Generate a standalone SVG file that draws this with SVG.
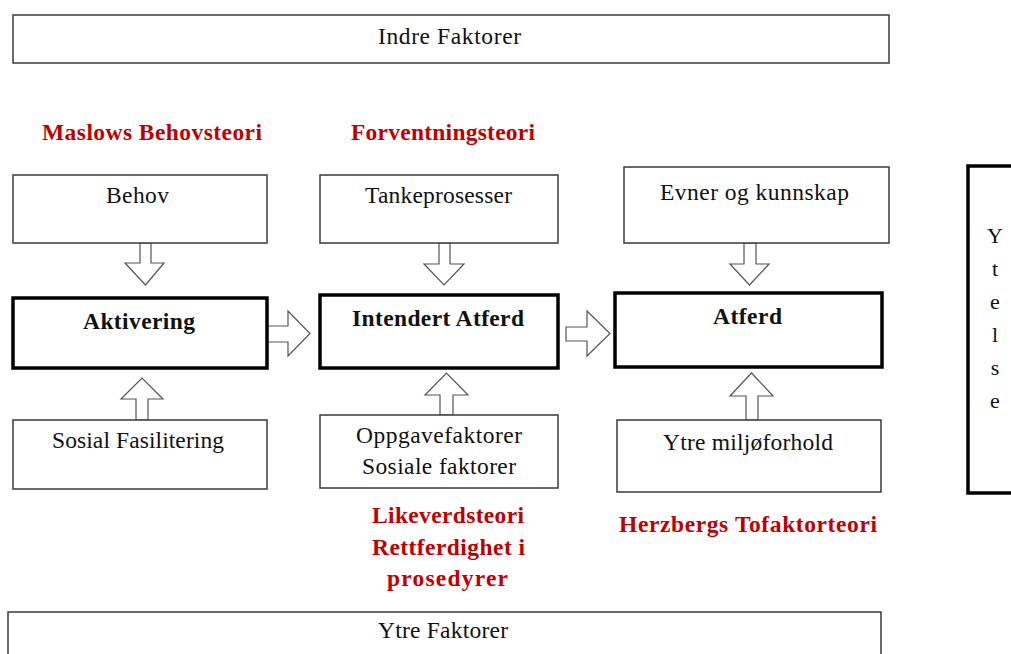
<svg xmlns="http://www.w3.org/2000/svg" width="1011" height="654" viewBox="0 0 1011 654">
  <style>
    .box { fill: #ffffff; stroke: #3a3a3a; stroke-width: 1.5; }
    .core { fill: #ffffff; stroke: #000000; stroke-width: 3.5; }
    .arrow { fill: #ffffff; stroke: #555555; stroke-width: 1.2; stroke-linejoin: miter; }
    .t { font-family: "Liberation Serif", "Times New Roman", serif; font-size: 23.5px; fill: #111111; text-anchor: middle; }
    .b { font-family: "Liberation Serif", "Times New Roman", serif; font-size: 23.5px; font-weight: bold; fill: #111111; text-anchor: middle; }
    .theory { font-family: "Liberation Serif", "Times New Roman", serif; font-size: 23.5px; font-weight: bold; fill: #c00000; text-anchor: middle; }
    .v { font-family: "Liberation Serif", "Times New Roman", serif; font-size: 22px; fill: #111111; text-anchor: middle; }
  </style>
  <rect width="1011" height="654" fill="#ffffff"/>

  <!-- block arrows between the boxes -->
  <g id="connectors">
    <polygon class="arrow" points="140,243 151,243 151,263 164,263 145.5,285 125,263 140,263"/>
    <polygon class="arrow" points="439,243 450,243 450,264 464,264 444,285 424,264 439,264"/>
    <polygon class="arrow" points="744,243 756,243 756,264 769,264 749.5,285 730,264 744,264"/>
    <polygon class="arrow" points="267,326 288,326 288,311 310,333.5 288,356 288,342 267,342"/>
    <polygon class="arrow" points="566,327 587,327 587,311 610,333.5 587,356 587,341 566,341"/>
    <polygon class="arrow" points="136,420 136,399 121,399 142,378 163,399 148,399 148,420"/>
    <polygon class="arrow" points="440,415 440,395 425,395 446.5,373 468,395 453,395 453,415"/>
    <polygon class="arrow" points="746,420 746,396 730,396 751.5,373 773,396 758,396 758,420"/>
  </g>

  <g id="indre-faktorer">
    <rect class="box" x="13" y="15" width="876" height="48"/>
    <text class="t" x="449.5" y="44" textLength="143" lengthAdjust="spacing">Indre Faktorer</text>
  </g>

  <g id="maslow-label">
    <text class="theory" x="152" y="140" textLength="220" lengthAdjust="spacing">Maslows Behovsteori</text>
  </g>
  <g id="forventning-label">
    <text class="theory" x="443" y="140" textLength="184" lengthAdjust="spacing">Forventningsteori</text>
  </g>

  <g id="behov">
    <rect class="box" x="13" y="175" width="254" height="68"/>
    <text class="t" x="137.5" y="203" textLength="63" lengthAdjust="spacing">Behov</text>
  </g>
  <g id="tankeprosesser">
    <rect class="box" x="320" y="175" width="238" height="68"/>
    <text class="t" x="438.5" y="203" textLength="147" lengthAdjust="spacing">Tankeprosesser</text>
  </g>
  <g id="evner">
    <rect class="box" x="624" y="167" width="265" height="76"/>
    <text class="t" x="754.5" y="200" textLength="189" lengthAdjust="spacing">Evner og kunnskap</text>
  </g>

  <g id="aktivering">
    <rect class="core" x="13" y="298" width="254" height="70"/>
    <text class="b" x="139" y="329" textLength="112" lengthAdjust="spacing">Aktivering</text>
  </g>
  <g id="intendert-atferd">
    <rect class="core" x="320" y="295" width="238" height="73"/>
    <text class="b" x="438" y="326" textLength="172" lengthAdjust="spacing">Intendert Atferd</text>
  </g>
  <g id="atferd">
    <rect class="core" x="615" y="293" width="267" height="74"/>
    <text class="b" x="747.5" y="324" textLength="69" lengthAdjust="spacing">Atferd</text>
  </g>

  <g id="sosial-fasilitering">
    <rect class="box" x="13" y="420" width="254" height="69"/>
    <text class="t" x="138" y="448" textLength="172" lengthAdjust="spacing">Sosial Fasilitering</text>
  </g>
  <g id="oppgavefaktorer">
    <rect class="box" x="320" y="415" width="238" height="73"/>
    <text class="t" x="439" y="443" textLength="166" lengthAdjust="spacing">Oppgavefaktorer</text>
    <text class="t" x="439" y="474" textLength="154" lengthAdjust="spacing">Sosiale faktorer</text>
  </g>
  <g id="ytre-miljo">
    <rect class="box" x="617" y="420" width="264" height="72"/>
    <text class="t" x="748" y="450" textLength="170" lengthAdjust="spacing">Ytre miljøforhold</text>
  </g>

  <g id="likeverd-label">
    <text class="theory" x="448" y="523" textLength="152" lengthAdjust="spacing">Likeverdsteori</text>
    <text class="theory" x="448.5" y="555" textLength="153" lengthAdjust="spacing">Rettferdighet i</text>
    <text class="theory" x="447.5" y="586" textLength="121" lengthAdjust="spacing">prosedyrer</text>
  </g>
  <g id="herzberg-label">
    <text class="theory" x="748" y="532" textLength="258" lengthAdjust="spacing">Herzbergs Tofaktorteori</text>
  </g>

  <g id="ytelse">
    <rect class="core" x="968" y="166" width="60" height="327"/>
    <text class="v" x="995" y="243">Y</text>
    <text class="v" x="995" y="276">t</text>
    <text class="v" x="995" y="309">e</text>
    <text class="v" x="995" y="342">l</text>
    <text class="v" x="995" y="375">s</text>
    <text class="v" x="995" y="408">e</text>
  </g>

  <g id="ytre-faktorer">
    <rect class="box" x="8" y="612" width="873" height="60"/>
    <text class="t" x="443" y="638" textLength="130" lengthAdjust="spacing">Ytre Faktorer</text>
  </g>
</svg>
